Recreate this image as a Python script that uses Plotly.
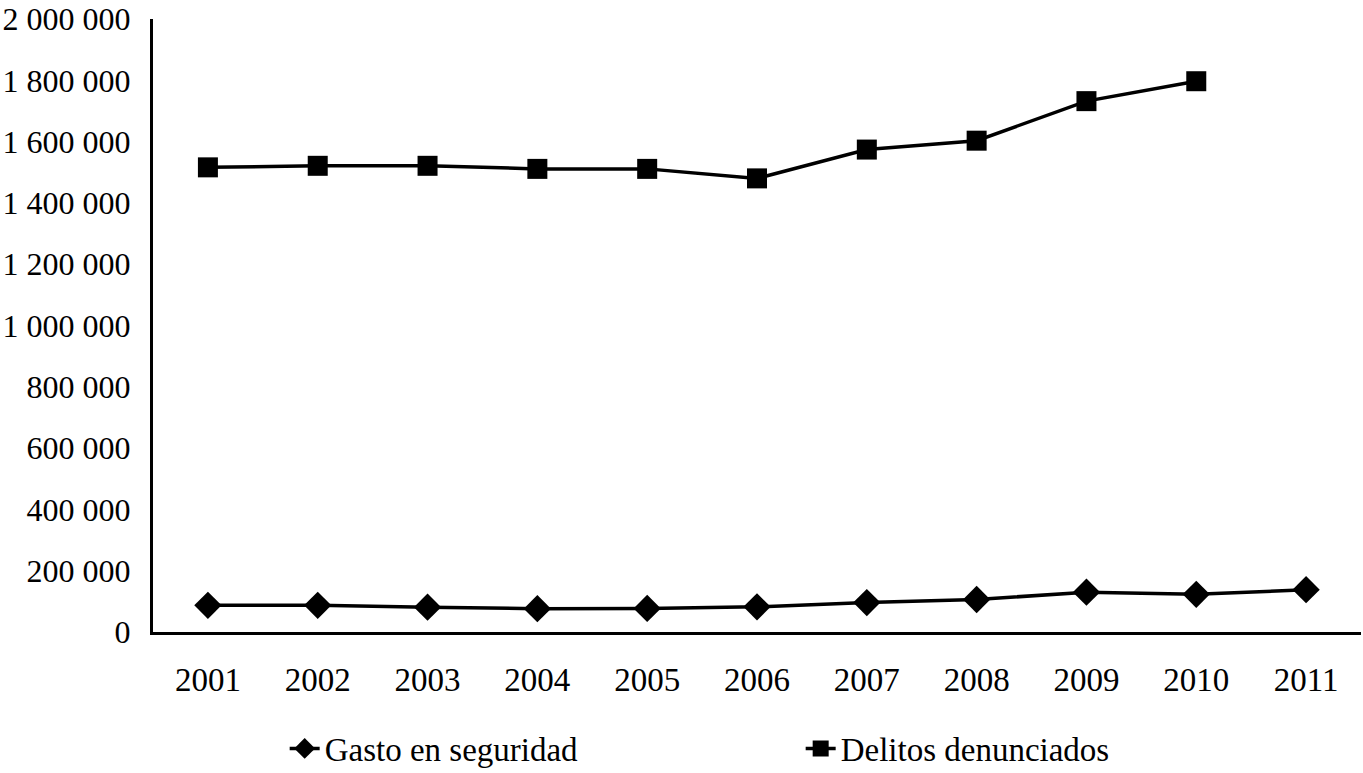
import plotly.graph_objects as go

years = ["2001", "2002", "2003", "2004", "2005", "2006", "2007", "2008", "2009", "2010", "2011"]
gasto = [87000, 87000, 81000, 76000, 77000, 82000, 96000, 106000, 130000, 123000, 138000]
delitos = [1516000, 1521000, 1521000, 1511000, 1511000, 1480000, 1574000, 1603000, 1732000, 1797000, None]
y_tickvals = [0, 200000, 400000, 600000, 800000, 1000000, 1200000, 1400000, 1600000, 1800000, 2000000]
y_ticktext = ["0", "200 000", "400 000", "600 000", "800 000", "1 000 000", "1 200 000",
              "1 400 000", "1 600 000", "1 800 000", "2 000 000"]

FONT = "Liberation Serif"

fig = go.Figure()
fig.add_trace(go.Scatter(
    x=years, y=gasto, name="Gasto en seguridad", mode="lines+markers",
    line=dict(color="black", width=3.5),
    marker=dict(symbol="diamond", size=21, color="black"),
    cliponaxis=False,
))
fig.add_trace(go.Scatter(
    x=years, y=delitos, name="Delitos denunciados", mode="lines+markers",
    line=dict(color="black", width=3.5),
    marker=dict(symbol="square", size=20, color="black"),
    cliponaxis=False,
))

fig.update_layout(
    width=1363, height=773,
    margin=dict(l=153, r=2, t=19, b=141, autoexpand=False),
    paper_bgcolor="white", plot_bgcolor="white",
    font=dict(family=FONT, size=33, color="black"),
    showlegend=True,
    legend=dict(
        orientation="h", x=0.109, xanchor="left", y=-0.19, yanchor="middle",
        font=dict(family=FONT, size=33, color="black"),
        entrywidth=471, entrywidthmode="pixels",
        itemsizing="trace",
    ),
    xaxis=dict(
        type="category", range=[-0.5, 10.5],
        showline=True, linecolor="black", linewidth=3,
        showgrid=False, zeroline=False, ticks="",
        ticklabelstandoff=16, automargin=False,
        tickfont=dict(family=FONT, size=33, color="black"),
    ),
    yaxis=dict(
        range=[0, 2000000],
        tickvals=y_tickvals, ticktext=y_ticktext,
        showline=True, linecolor="black", linewidth=3,
        showgrid=False, zeroline=False, ticks="",
        ticklabelstandoff=13, automargin=False,
        ticklabeloverflow="allow",
        tickfont=dict(family=FONT, size=32, color="black"),
    ),
)

fig.write_html(
    "out.html",
    config={"displayModeBar": False},
    post_script="document.body.style.margin='0';document.body.style.overflow='hidden';",
)
